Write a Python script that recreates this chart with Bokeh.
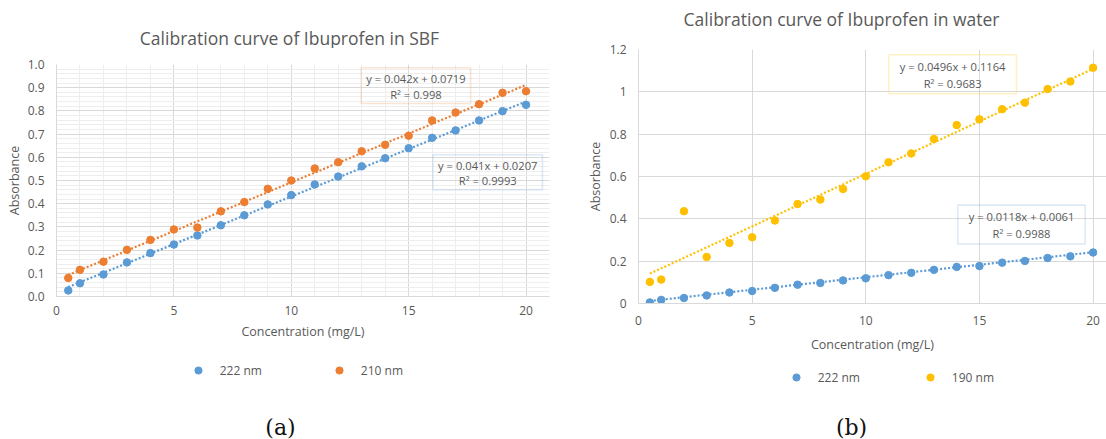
from bokeh.plotting import figure
from bokeh.layouts import row, column
from bokeh.models import (Range1d, FixedTicker, CustomJSTickFormatter, Label,
                          BoxAnnotation, Legend, LegendItem)
from bokeh.embed import file_html
from bokeh.resources import INLINE

# ---------------- data ----------------
conc = [0.5, 1, 2, 3, 4, 5, 6, 7, 8, 9, 10, 11, 12, 13, 14, 15, 16, 17, 18, 19, 20]

sbf_222 = [0.026, 0.057, 0.095, 0.147, 0.187, 0.224, 0.263, 0.307, 0.350, 0.397, 0.437,
           0.483, 0.517, 0.561, 0.596, 0.639, 0.684, 0.716, 0.759, 0.799, 0.826]
sbf_210 = [0.080, 0.115, 0.150, 0.201, 0.244, 0.289, 0.297, 0.367, 0.407, 0.464, 0.500,
           0.552, 0.579, 0.626, 0.654, 0.693, 0.759, 0.793, 0.829, 0.878, 0.885]

water_222 = [0.005, 0.017, 0.026, 0.038, 0.052, 0.059, 0.074, 0.089, 0.097, 0.109, 0.119,
             0.134, 0.145, 0.159, 0.173, 0.177, 0.193, 0.201, 0.215, 0.223, 0.241]
water_190 = [0.102, 0.113, 0.436, 0.220, 0.286, 0.313, 0.392, 0.470, 0.491, 0.541, 0.601,
             0.667, 0.709, 0.777, 0.843, 0.870, 0.918, 0.949, 1.013, 1.049, 1.114]

# trendline (slope, intercept) and R^2 as shown on the chart
fit_sbf_222 = (0.041, 0.0207, "0.9993")
fit_sbf_210 = (0.042, 0.0719, "0.998")
fit_w_222 = (0.0118, 0.0061, "0.9988")
fit_w_190 = (0.0496, 0.1164, "0.9683")

x_ticks = [0, 5, 10, 15, 20]
y_ticks_sbf = [round(0.1 * i, 1) for i in range(11)]
y_ticks_water = [0, 0.2, 0.4, 0.6, 0.8, 1.0, 1.2]

BLUE = "#5B9BD5"
ORANGE = "#ED7D31"
YELLOW = "#FFC000"
TXT = "#595959"
FONT = "Open Sans"

FOOT_H = 83
NAN = float("nan")


def eq_text(fit):
    s, b, _ = fit
    return "y = %sx + %s" % (repr(s), repr(b))


def trend(p, fit, color):
    s, b, _ = fit
    xs = [min(conc), max(conc)]
    ys = [s * x + b for x in xs]
    p.line(xs, ys, line_color=color, line_width=2.2, line_dash="2 2")


def style_axes(p):
    for ax in (p.xaxis[0], p.yaxis[0]):
        ax.major_tick_out = 0
        ax.major_tick_in = 0
        ax.minor_tick_out = 0
        ax.minor_tick_in = 0
        ax.axis_line_color = "#d9d9d9"
        ax.major_label_text_font = FONT
        ax.major_label_text_font_size = "12px"
        ax.major_label_text_color = TXT
        ax.axis_label_text_font = FONT
        ax.axis_label_text_font_size = "12.5px"
        ax.axis_label_text_color = TXT
        ax.axis_label_text_font_style = "normal"
    p.xaxis.axis_label = "Concentration (mg/L)"
    p.yaxis.axis_label = "Absorbance"
    p.yaxis.major_label_standoff = 12
    p.outline_line_color = None


def box(p, l, r, t, b, color):
    p.add_layout(BoxAnnotation(left=l, right=r, top=t, bottom=b, fill_alpha=0,
                               line_color=color, line_width=1.6))


def txt(p, x, y, s):
    p.add_layout(Label(x=x, y=y, text=s, text_align="center", text_baseline="middle",
                       text_font=FONT, text_font_size="11.2px", text_color=TXT))


def blank(height, fl, fr):
    # an axis-less strip whose frame is aligned with the chart frame below/above it;
    # x coordinates are pixels from the left of the chart figure
    f = figure(width=553, height=height, output_backend="svg", toolbar_location=None,
               x_range=Range1d(fl, fr), y_range=Range1d(0, height),
               x_axis_type=None, y_axis_type=None, min_border=0)
    f.outline_line_color = None
    f.xgrid.visible = False
    f.ygrid.visible = False
    return f


def header(text, head_h, fl, fr, cx, cy):
    h = blank(head_h, fl, fr)
    h.add_layout(Label(x=cx, y=head_h - cy, text=text, text_align="center",
                       text_baseline="middle", text_font=FONT, text_font_size="17.5px",
                       text_color=TXT))
    return h


def footer(labels, colors, fl, fr, top, leg_x, leg_cy, spacing, tag, tag_x, tag_cy):
    f = blank(FOOT_H, fl, fr)
    items = []
    for lab, col in zip(labels, colors):
        r = f.scatter([NAN], [NAN], size=7.5, color=col)
        items.append(LegendItem(label=lab, renderers=[r]))
    lg = Legend(items=items, orientation="horizontal",
                location=(leg_x - fl, FOOT_H - (leg_cy - top) - 9),
                padding=0, margin=0, spacing=spacing, label_standoff=13,
                glyph_width=18, glyph_height=18, label_text_font=FONT,
                label_text_font_size="12px", label_text_color=TXT,
                border_line_color=None, background_fill_alpha=0)
    f.add_layout(lg, "center")
    f.add_layout(Label(x=tag_x, y=FOOT_H - (tag_cy - top), text=tag, text_align="center",
                       text_baseline="middle", text_font="DejaVu Serif",
                       text_font_size="22px", text_color="#111111"))
    return f


# ---------------- left chart (SBF) ----------------
L_HEAD = 48
L_CHART = 439 - L_HEAD - FOOT_H
L_LEFT, L_RIGHT, L_TOP, L_BOT = 56, 549, 64, 296
p1 = figure(width=553, height=L_CHART, output_backend="svg", toolbar_location=None,
            x_range=Range1d(0, 21), y_range=Range1d(0, 1.0),
            min_border_left=L_LEFT, min_border_right=553 - L_RIGHT,
            min_border_top=L_TOP - L_HEAD, min_border_bottom=L_HEAD + L_CHART - L_BOT)
style_axes(p1)
p1.xaxis.major_label_standoff = 9
p1.xaxis.axis_label_standoff = 5
p1.yaxis.axis_label_standoff = 2
p1.xaxis.ticker = FixedTicker(ticks=x_ticks, minor_ticks=list(range(0, 22)))
p1.yaxis.ticker = FixedTicker(ticks=y_ticks_sbf, minor_ticks=[round(0.02 * i, 2) for i in range(51)])
p1.yaxis.formatter = CustomJSTickFormatter(code="return tick.toFixed(1)")
p1.xgrid.grid_line_color = "#d9d9d9"
p1.ygrid.grid_line_color = "#d9d9d9"
p1.xgrid.minor_grid_line_color = "#eeeeee"
p1.ygrid.minor_grid_line_color = "#eeeeee"

trend(p1, fit_sbf_222, BLUE)
trend(p1, fit_sbf_210, ORANGE)
p1.scatter(conc, sbf_222, size=7.5, color=BLUE)
p1.scatter(conc, sbf_210, size=7.5, color=ORANGE)

box(p1, 12.98, 17.64, 0.986, 0.832, "#EFA670")
txt(p1, 15.31, 0.940, eq_text(fit_sbf_210))
txt(p1, 15.31, 0.871, "R² = " + fit_sbf_210[2])
box(p1, 16.03, 20.70, 0.611, 0.460, "#8DB6DE")
txt(p1, 18.37, 0.566, eq_text(fit_sbf_222))
txt(p1, 18.37, 0.501, "R² = " + fit_sbf_222[2])

h1 = header("Calibration curve of Ibuprofen in SBF", L_HEAD, L_LEFT, L_RIGHT, 289, 37)
f1 = footer(["222 nm", "210 nm"], [BLUE, ORANGE], L_LEFT, L_RIGHT, L_HEAD + L_CHART,
            188.7, 370, 68, "(a)", 280, 427)

# ---------------- right chart (water) ----------------
R_HEAD = 38
R_CHART = 439 - R_HEAD - FOOT_H
R_LEFT, R_RIGHT, R_TOP, R_BOT = 85, 553, 49, 303
p2 = figure(width=553, height=R_CHART, output_backend="svg", toolbar_location=None,
            x_range=Range1d(0, 20.59), y_range=Range1d(0, 1.2),
            min_border_left=R_LEFT, min_border_right=553 - R_RIGHT,
            min_border_top=R_TOP - R_HEAD, min_border_bottom=R_HEAD + R_CHART - R_BOT)
style_axes(p2)
p2.xaxis.major_label_standoff = 12
p2.xaxis.axis_label_standoff = 8
p2.yaxis.axis_label_standoff = 3
p2.xaxis.ticker = FixedTicker(ticks=x_ticks)
p2.yaxis.ticker = FixedTicker(ticks=y_ticks_water)
p2.yaxis.formatter = CustomJSTickFormatter(code="return String(Math.round(tick*10)/10)")
p2.xgrid.grid_line_color = "#d9d9d9"
p2.ygrid.grid_line_color = "#d9d9d9"

trend(p2, fit_w_222, BLUE)
trend(p2, fit_w_190, YELLOW)
p2.scatter(conc, water_222, size=7.5, color=BLUE)
p2.scatter(conc, water_190, size=7.5, color=YELLOW)

box(p2, 11.01, 16.63, 1.175, 0.991, "#FFCF40")
txt(p2, 13.82, 1.120, eq_text(fit_w_190))
txt(p2, 13.82, 1.038, "R² = " + fit_w_190[2])
box(p2, 14.05, 19.65, 0.465, 0.281, "#8DB6DE")
txt(p2, 16.85, 0.412, eq_text(fit_w_222))
txt(p2, 16.85, 0.332, "R² = " + fit_w_222[2])

h2 = header("Calibration curve of Ibuprofen in water", R_HEAD, R_LEFT, R_RIGHT, 288, 18)
f2 = footer(["222 nm", "190 nm"], [BLUE, YELLOW], R_LEFT, R_RIGHT, R_HEAD + R_CHART,
            233.7, 377.3, 61, "(b)", 298, 427)

layout = row(column(h1, p1, f1, spacing=0), column(h2, p2, f2, spacing=0), spacing=0)
open("out.html", "w").write(file_html(layout, INLINE))
